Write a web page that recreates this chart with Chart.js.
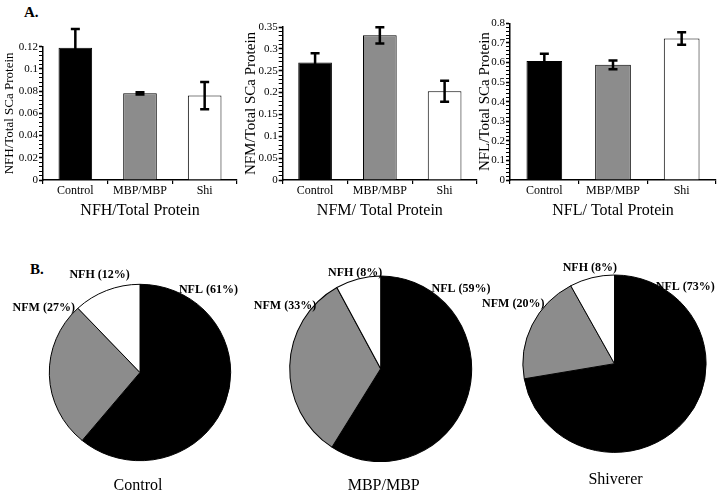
<!DOCTYPE html>
<html>
<head>
<meta charset="utf-8">
<script src="https://cdn.jsdelivr.net/npm/chart.js@4.4.1/dist/chart.umd.min.js"></script>
<style>
  body { margin: 0; background: #fff; }
  #fig { position: relative; width: 720px; height: 493px; overflow: hidden; font-family: "Liberation Serif", serif; color: #000; }
  .box { position: absolute; }
  .panel { position: absolute; font-weight: bold; font-size: 15px; line-height: 15px; }
</style>
</head>
<body>
<div id="fig">
  <div class="panel" style="left:24px;top:5px">A.</div>
  <div class="panel" style="left:30px;top:262px">B.</div>
  <div class="box" style="left:0;top:0;width:240px;height:230px"><canvas id="barH"></canvas></div>
  <div class="box" style="left:240px;top:0;width:240px;height:230px"><canvas id="barM"></canvas></div>
  <div class="box" style="left:474px;top:0;width:246px;height:230px"><canvas id="barL"></canvas></div>
  <div class="box" style="left:0;top:250px;width:240px;height:243px"><canvas id="pieC"></canvas></div>
  <div class="box" style="left:240px;top:250px;width:260px;height:243px"><canvas id="pieM"></canvas></div>
  <div class="box" style="left:480px;top:250px;width:240px;height:243px"><canvas id="pieS"></canvas></div>
</div>
<script>
// panel A: ratio of each neurofilament subunit to total SCa protein
var groups = ['Control', 'MBP/MBP', 'Shi'];
var nfhMean = [0.119, 0.078, 0.076];
var nfhErr = [0.017, 0.001, 0.0123];
var nfmMean = [0.269, 0.331, 0.203];
var nfmErr = [0.021, 0.0185, 0.024];
var nflMean = [0.608, 0.588, 0.722];
var nflErr = [0.037, 0.022, 0.032];

// y axes: top value, labelled step, small tick step
var yMax = [0.12, 0.35, 0.8];
var yMajor = [0.02, 0.05, 0.1];
var yMinor = [0.004, 0.01, 0.02];

// panel B: percentage of each subunit
var pieNames = ['Control', 'MBP/MBP', 'Shiverer'];
var sliceNames = ['NFL', 'NFM', 'NFH'];
var pieControl = [61, 27, 12];
var pieMBP = [59, 33, 8];
var pieShi = [73, 20, 8];

var barFill = ['#000000', '#8c8c8c', '#ffffff'];
var sliceFill = ['#000000', '#8c8c8c', '#ffffff'];

Chart.defaults.font.family = '"Liberation Serif", "Times New Roman", serif';
Chart.defaults.color = '#000';
Chart.defaults.animation = false;

var errorBars = {
    id: 'errorBars',
    afterDatasetsDraw: function (chart) {
        var ctx = chart.ctx;
        var y = chart.scales.y;
        var ds = chart.data.datasets[0];
        chart.getDatasetMeta(0).data.forEach(function (bar, i) {
            var top = y.getPixelForValue(ds.data[i] + ds.errors[i]);
            var bot = y.getPixelForValue(ds.data[i] - ds.errors[i]);
            ctx.save();
            ctx.strokeStyle = '#000';
            ctx.lineWidth = 2.5;
            ctx.beginPath();
            ctx.moveTo(bar.x, top); ctx.lineTo(bar.x, bot);
            ctx.moveTo(bar.x - 4.5, top); ctx.lineTo(bar.x + 4.5, top);
            ctx.moveTo(bar.x - 4.5, bot); ctx.lineTo(bar.x + 4.5, bot);
            ctx.stroke();
            ctx.restore();
        });
    }
};

function barChart(id, k, means, errs, xTitle, yTitle, yFont, box) {
    var major = yMajor[k];
    function isMajor(v) {
        var r = v / major;
        return Math.abs(r - Math.round(r)) < 1e-6;
    }
    new Chart(document.getElementById(id), {
        type: 'bar',
        data: {
            labels: groups,
            datasets: [{
                data: means,
                errors: errs,
                backgroundColor: barFill,
                borderColor: '#000',
                borderWidth: 1,
                barPercentage: 0.52,
                categoryPercentage: 1
            }]
        },
        options: {
            responsive: true,
            maintainAspectRatio: false,
            events: [],
            layout: { padding: { top: box.top, right: box.right, bottom: 9.4, left: 0 } },
            plugins: { legend: { display: false }, tooltip: { enabled: false } },
            scales: {
                x: {
                    grid: { drawOnChartArea: false, offset: true, tickLength: 4, color: '#000', lineWidth: 1.2 },
                    border: { color: '#000', width: 1.5 },
                    ticks: { font: { size: 12 }, padding: 0, maxRotation: 0 },
                    title: { display: true, text: xTitle, font: { size: 16 }, padding: 0 },
                    afterFit: function (s) { s.height = 40.6; }
                },
                y: {
                    min: 0,
                    max: yMax[k],
                    grid: {
                        drawOnChartArea: false, tickLength: 4, color: '#000',
                        tickWidth: function (c) { return c.tick && isMajor(c.tick.value) ? 1.6 : 1; }
                    },
                    border: { color: '#000', width: 1.5 },
                    ticks: {
                        stepSize: yMinor[k],
                        autoSkip: false,
                        font: { size: 11 },
                        padding: 1,
                        callback: function (v) { return isMajor(v) ? String(+v.toFixed(3)) : ''; }
                    },
                    title: { display: true, text: yTitle, font: { size: yFont }, padding: { top: 2, bottom: 0 } },
                    afterFit: function (s) { s.width = box.axis; }
                }
            }
        },
        plugins: [errorBars]
    });
}

barChart('barH', 0, nfhMean, nfhErr, 'NFH/Total Protein', 'NFH/Total SCa Protein', 13, { top: 46.7, right: 3, axis: 43 });
barChart('barM', 1, nfmMean, nfmErr, 'NFM/ Total Protein', 'NFM/Total SCa Protein', 15, { top: 27, right: 3, axis: 42.7 });
barChart('barL', 2, nflMean, nflErr, 'NFL/ Total Protein', 'NFL/Total SCa Protein', 15, { top: 23.3, right: 4, axis: 36 });

// pies: slightly squashed circles with labels placed on the rim
function piePlugin(spec) {
    return {
        id: 'pieLook',
        beforeDatasetsDraw: function (chart) {
            var arc = chart.getDatasetMeta(0).data[0];
            var ctx = chart.ctx;
            ctx.save();
            ctx.translate(arc.x, arc.y);
            ctx.scale(1, spec.b / spec.a);
            ctx.translate(-arc.x, -arc.y);
        },
        afterDatasetsDraw: function (chart) {
            chart.ctx.restore();
        },
        afterDraw: function (chart) {
            var arc = chart.getDatasetMeta(0).data[0];
            var ctx = chart.ctx;
            var values = chart.data.datasets[0].data;
            ctx.save();
            ctx.fillStyle = '#000';
            ctx.textBaseline = 'middle';
            ctx.font = 'bold 12px "Liberation Serif", serif';
            spec.place.forEach(function (p, i) {
                var t = p.angle * Math.PI / 180;
                var x = arc.x + spec.a * Math.sin(t) + p.dx;
                var y = arc.y - spec.b * Math.cos(t) + p.dy;
                ctx.textAlign = p.align;
                ctx.fillText(sliceNames[i] + ' (' + values[i] + '%)', x, y);
            });
            ctx.font = '16px "Liberation Serif", serif';
            ctx.textAlign = 'center';
            ctx.fillText(spec.name, arc.x + spec.capDx, spec.capY);
            ctx.restore();
        }
    };
}

function pieChart(id, values, spec) {
    var W = spec.w, H = 243;
    var h = 2 * spec.cx - W, v = 2 * spec.cy - H;
    new Chart(document.getElementById(id), {
        type: 'pie',
        data: {
            labels: sliceNames,
            datasets: [{
                data: values,
                backgroundColor: sliceFill,
                borderColor: '#000',
                borderWidth: 1,
                radius: spec.a
            }]
        },
        options: {
            responsive: true,
            maintainAspectRatio: false,
            events: [],
            layout: { padding: { left: Math.max(h, 0), right: Math.max(-h, 0), top: Math.max(v, 0), bottom: Math.max(-v, 0) } },
            plugins: { legend: { display: false }, tooltip: { enabled: false } }
        },
        plugins: [piePlugin(spec)]
    });
}

pieChart('pieC', pieControl, {
    name: pieNames[0], w: 240, cx: 140, cy: 122.5, a: 90.7, b: 88.2, capDx: -2, capY: 236,
    place: [
        { angle: 24, align: 'left', dx: 2, dy: -2 },
        { angle: 316.8, align: 'right', dx: -3, dy: 0 },
        { angle: 337, align: 'center', dx: -5, dy: -16 }
    ]
});
pieChart('pieM', pieMBP, {
    name: pieNames[1], w: 260, cx: 140.7, cy: 118.8, a: 91, b: 92.8, capDx: 3, capY: 236,
    place: [
        { angle: 31, align: 'left', dx: 4, dy: 0 },
        { angle: 313, align: 'right', dx: 2, dy: 0 },
        { angle: 345, align: 'center', dx: -2, dy: -6 }
    ]
});
pieChart('pieS', pieShi, {
    name: pieNames[2], w: 240, cx: 134.5, cy: 113.7, a: 91.6, b: 88.7, capDx: 1, capY: 230,
    place: [
        { angle: 24, align: 'left', dx: 4, dy: 4 },
        { angle: 312, align: 'right', dx: -2, dy: 0 },
        { angle: 345, align: 'center', dx: -1, dy: -10 }
    ]
});
</script>
</body>
</html>
